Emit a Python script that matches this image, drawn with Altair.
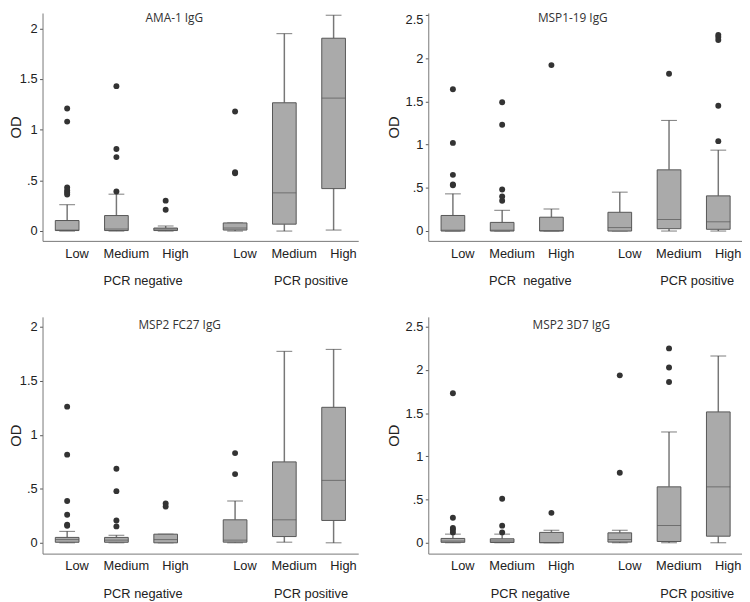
import altair as alt
import pandas as pd

panel_titles = ["AMA-1 IgG", "MSP1-19 IgG", "MSP2 FC27 IgG", "MSP2 3D7 IgG"]
groups = ["PCR negative", "PCR negative", "PCR negative", "PCR positive", "PCR positive", "PCR positive"]
levels = ["Low", "Medium", "High", "Low", "Medium", "High"]

# AMA-1 IgG
ama_lo = [0.0, 0.0, 0.0, 0.0, 0.0, 0.01]
ama_q1 = [0.005, 0.005, 0.005, 0.01, 0.068, 0.419]
ama_med = [0.01, 0.02, 0.02, 0.03, 0.377, 1.312]
ama_q3 = [0.104, 0.153, 0.03, 0.08, 1.266, 1.903]
ama_hi = [0.26, 0.364, 0.05, 0.08, 1.948, 2.13]
ama_out = [[1.21, 1.08, 0.43, 0.40, 0.38, 0.36], [1.43, 0.81, 0.73, 0.39], [0.30, 0.21], [1.18, 0.58, 0.57], [], []]

# MSP1-19 IgG
msp1_lo = [0.0, 0.0, 0.0, 0.0, 0.0, 0.0]
msp1_q1 = [0.0, 0.0, 0.0, 0.0, 0.027, 0.02]
msp1_med = [0.01, 0.01, 0.005, 0.04, 0.133, 0.107]
msp1_q3 = [0.18, 0.10, 0.16, 0.217, 0.708, 0.407]
msp1_hi = [0.43, 0.24, 0.255, 0.45, 1.28, 0.936]
msp1_out = [[1.64, 1.02, 0.65, 0.54, 0.53], [1.49, 1.23, 0.48, 0.40, 0.35], [1.92], [], [1.82], [2.27, 2.245, 2.21, 1.45, 1.04]]

# MSP2 FC27 IgG
fc27_lo = [0.0, 0.0, 0.0, 0.0, 0.006, 0.0]
fc27_q1 = [0.005, 0.005, 0.0, 0.006, 0.058, 0.207]
fc27_med = [0.03, 0.025, 0.03, 0.025, 0.213, 0.578]
fc27_q3 = [0.05, 0.05, 0.08, 0.213, 0.749, 1.254]
fc27_hi = [0.106, 0.07, 0.08, 0.387, 1.772, 1.79]
fc27_out = [[1.26, 0.816, 0.387, 0.26, 0.167, 0.158], [0.685, 0.478, 0.207, 0.152], [0.365, 0.335], [0.83, 0.636], [], []]

# MSP2 3D7 IgG
d7_lo = [0.0, 0.0, 0.0, 0.0, 0.0, 0.0]
d7_q1 = [0.005, 0.003, 0.0, 0.008, 0.015, 0.076]
d7_med = [0.02, 0.02, 0.003, 0.038, 0.2, 0.647]
d7_q3 = [0.05, 0.046, 0.12, 0.115, 0.647, 1.514]
d7_hi = [0.10, 0.10, 0.145, 0.145, 1.282, 2.161]
d7_out = [[1.73, 0.29, 0.17, 0.15, 0.12], [0.51, 0.198, 0.12], [0.346], [1.937, 0.81], [2.249, 2.028, 1.861], []]

ticks_2 = [0, 0.5, 1, 1.5, 2]
ticks_25 = [0, 0.5, 1, 1.5, 2, 2.5]

FONT = "Liberation Sans"
GROUP_DOMAIN = ["PCR negative", "PCR positive"]
LEVEL_DOMAIN = ["Low", "Medium", "High"]


def panel(title, lo, q1, med, q3, hi, out, ticks, ydom, width, height,
          title_x, title_y, glabel_off, neg_label, extent, title_pad, top_label_shift):
    boxes = pd.DataFrame({"group": groups, "level": levels, "lo": lo, "q1": q1,
                          "med": med, "q3": q3, "hi": hi})
    rows = []
    for g, l, vals in zip(groups, levels, out):
        for v in vals:
            rows.append({"group": g, "level": l, "value": v})
    outl = pd.DataFrame(rows, columns=["group", "level", "value"])

    xaxis = alt.Axis(title=None, labelAngle=0, ticks=False, tickSize=0,
                     labelPadding=34, labelOffset=glabel_off, labelFontSize=13,
                     labelFont=FONT, labelColor="#222", domainColor="#777",
                     domainWidth=1,
                     labelExpr="datum.label == 'PCR negative' ? '" + neg_label + "' : datum.label")
    x = alt.X("group:N", scale=alt.Scale(domain=GROUP_DOMAIN, paddingInner=0.12, paddingOuter=0),
              axis=xaxis)
    xo = alt.XOffset("level:N", scale=alt.Scale(domain=LEVEL_DOMAIN, paddingInner=0, paddingOuter=0))
    yscale = alt.Scale(domain=ydom, nice=False, zero=False)
    yaxis = alt.Axis(title="OD", values=ticks, grid=False, tickSize=3, tickColor="#555",
                     domainColor="#777", labelPadding=2.5, labelFontSize=13, labelFont=FONT,
                     labelColor="#222", titleFont=FONT, titleFontSize=15,
                     titleFontWeight="normal", titleColor="#222", titlePadding=title_pad,
                     minExtent=extent, maxExtent=extent,
                     labelOffset={"condition": {"test": "datum.value == 2.5", "value": top_label_shift},
                                  "value": 0},
                     labelExpr="datum.value == 0 ? '0' : datum.value == 0.5 ? '.5' : format(datum.value, '~g')")

    base = alt.Chart(boxes)
    w_low = base.mark_rule(color="#777", strokeWidth=1.5).encode(
        x=x, xOffset=xo, y=alt.Y("lo:Q", scale=yscale, axis=yaxis), y2="q1:Q")
    w_hi = base.mark_rule(color="#777", strokeWidth=1.5).encode(
        x=x, xOffset=xo, y=alt.Y("q3:Q", scale=yscale, axis=yaxis), y2="hi:Q")
    cap_hi = base.mark_tick(size=16, thickness=1, color="#444").encode(
        x=x, xOffset=xo, y=alt.Y("hi:Q", scale=yscale, axis=yaxis))
    cap_lo = base.mark_tick(size=16, thickness=1, color="#444").encode(
        x=x, xOffset=xo, y=alt.Y("lo:Q", scale=yscale, axis=yaxis))
    box = base.mark_bar(size=24, fill="#aaaaaa", stroke="#555", strokeWidth=1).encode(
        x=x, xOffset=xo, y=alt.Y("q1:Q", scale=yscale, axis=yaxis), y2="q3:Q")
    median = base.mark_tick(size=24, thickness=1, color="#555").encode(
        x=x, xOffset=xo, y=alt.Y("med:Q", scale=yscale, axis=yaxis))
    pts = alt.Chart(outl).mark_circle(size=36, color="#333", opacity=1).encode(
        x=x, xOffset=xo, y=alt.Y("value:Q", scale=yscale, axis=yaxis))
    lab = base.mark_text(dx=10, baseline="middle", align="center", fontSize=13,
                         font=FONT, color="#222").encode(
        x=x, xOffset=xo, y=alt.value(height + 13), text="level:N")
    ttl = alt.Chart(pd.DataFrame({"title": [title]})).mark_text(
        baseline="top", align="center", fontSize=12, font="Open Sans", color="#333").encode(
        x=alt.value(title_x), y=alt.value(title_y), text="title:N")

    return alt.layer(w_low, w_hi, cap_hi, cap_lo, box, median, pts, lab, ttl).properties(
        width=width, height=height)


p1 = panel(panel_titles[0], ama_lo, ama_q1, ama_med, ama_q3, ama_hi, ama_out, ticks_2,
           [-0.097, 2.152], 320, 231, 133.6, 0, 27, "PCR negative", 17, 2.5, 0)
p2 = panel(panel_titles[1], msp1_lo, msp1_q1, msp1_med, msp1_q3, msp1_hi, msp1_out, ticks_25,
           [-0.114, 2.523], 318, 231, 146.5, 0, 29, "PCR\u00a0 negative", 23, 4.5, 4.5)
p3 = panel(panel_titles[2], fc27_lo, fc27_q1, fc27_med, fc27_q3, fc27_hi, fc27_out, ticks_2,
           [-0.1, 2.091], 320, 240, 139, 3.8, 27, "PCR negative", 17, 2.5, 0)
p4 = panel(panel_titles[3], d7_lo, d7_q1, d7_med, d7_q3, d7_hi, d7_out, ticks_25,
           [-0.1256, 2.614], 318, 240, 145, 3.8, 29, "PCR negative", 23, 4.5, 0)

chart = alt.concat(p1, p2, p3, p4, columns=2, spacing={"row": 77, "column": 71},
                   bounds="flush").properties(padding=0).configure_view(stroke=None)

chart.save("out.html", embed_options={"renderer": "svg", "actions": False})
